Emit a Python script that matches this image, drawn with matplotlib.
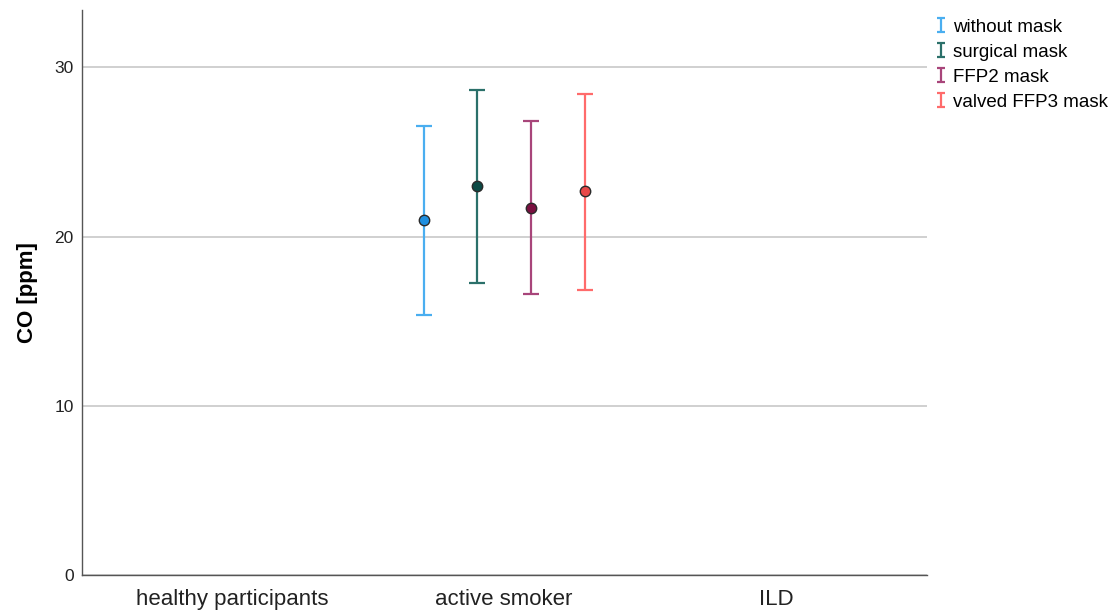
import matplotlib
matplotlib.use("Agg")
import matplotlib.pyplot as plt
from matplotlib.path import Path
from matplotlib.lines import Line2D
import numpy as np

plt.rcParams['font.family'] = ['Liberation Sans', 'DejaVu Sans']

categories = ["healthy participants", "active smoker", "ILD"]
series = ["without mask", "surgical mask", "FFP2 mask", "valved FFP3 mask"]
# values only for "active smoker"
means = [20.97, 22.98, 21.68, 22.68]
lower = [15.36, 17.25, 16.60, 16.83]
upper = [26.52, 28.65, 26.82, 28.41]
bar_colors = ["#4AAEF0", "#2B706A", "#A8457A", "#FF6B6B"]
marker_colors = ["#1E8FE0", "#0B4A45", "#7A1040", "#E84848"]

fig = plt.figure(figsize=(11.11, 6.12), dpi=100)
ax = fig.add_axes([0.0738, 0.0605, 0.7606, 0.9232])

offsets = [-0.295, -0.099, 0.099, 0.297]
cat_idx = 1
for i, s in enumerate(series):
    x = cat_idx + offsets[i]
    m = means[i]
    ax.errorbar([x], [m], yerr=[[m - lower[i]], [upper[i] - m]],
                fmt='none', ecolor=bar_colors[i], elinewidth=1.6,
                capsize=6, capthick=1.6, zorder=3)
    ax.plot([x], [m], 'o', ms=7.5, mfc=marker_colors[i], mec='#2a2a2a',
            mew=1.0, zorder=4)

# I-shaped legend marker
ipath = Path([(-0.3, 0.5), (0.3, 0.5), (0, 0.5), (0, -0.5), (-0.3, -0.5), (0.3, -0.5)],
             [Path.MOVETO, Path.LINETO, Path.MOVETO, Path.LINETO, Path.MOVETO, Path.LINETO])
handles = [Line2D([], [], linestyle='none', marker=ipath, markersize=10,
                  markeredgecolor=c, markerfacecolor='none', markeredgewidth=1.6)
           for c in bar_colors]

ax.set_xlim(-0.552, 2.555)
ax.set_ylim(0, 33.4)
ax.set_xticks(range(len(categories)))
ax.set_xticklabels(categories, fontsize=16, color='#222222')
ax.set_yticks([0, 10, 20, 30])
ax.set_yticklabels(["0", "10", "20", "30"], fontsize=12.5, color='#222222')
ax.tick_params(axis='both', length=0)
ax.tick_params(axis='y', pad=6)
ax.tick_params(axis='x', pad=10)
ax.yaxis.grid(True, color='#C8C8C8', linewidth=1.2)
ax.set_axisbelow(True)
for sp in ['top', 'right']:
    ax.spines[sp].set_visible(False)
for sp in ['left', 'bottom']:
    ax.spines[sp].set_color('#555555')
    ax.spines[sp].set_linewidth(1.0)
ax.set_ylabel("CO [ppm]", fontsize=16, fontweight='bold', labelpad=12)

leg = fig.legend(handles, series, loc='upper left', bbox_to_anchor=(0.836, 0.982),
                 frameon=False, fontsize=13.5, handlelength=0.5, handletextpad=0.4,
                 labelspacing=0.42, borderaxespad=0)

fig.savefig("out.png", dpi=100)
